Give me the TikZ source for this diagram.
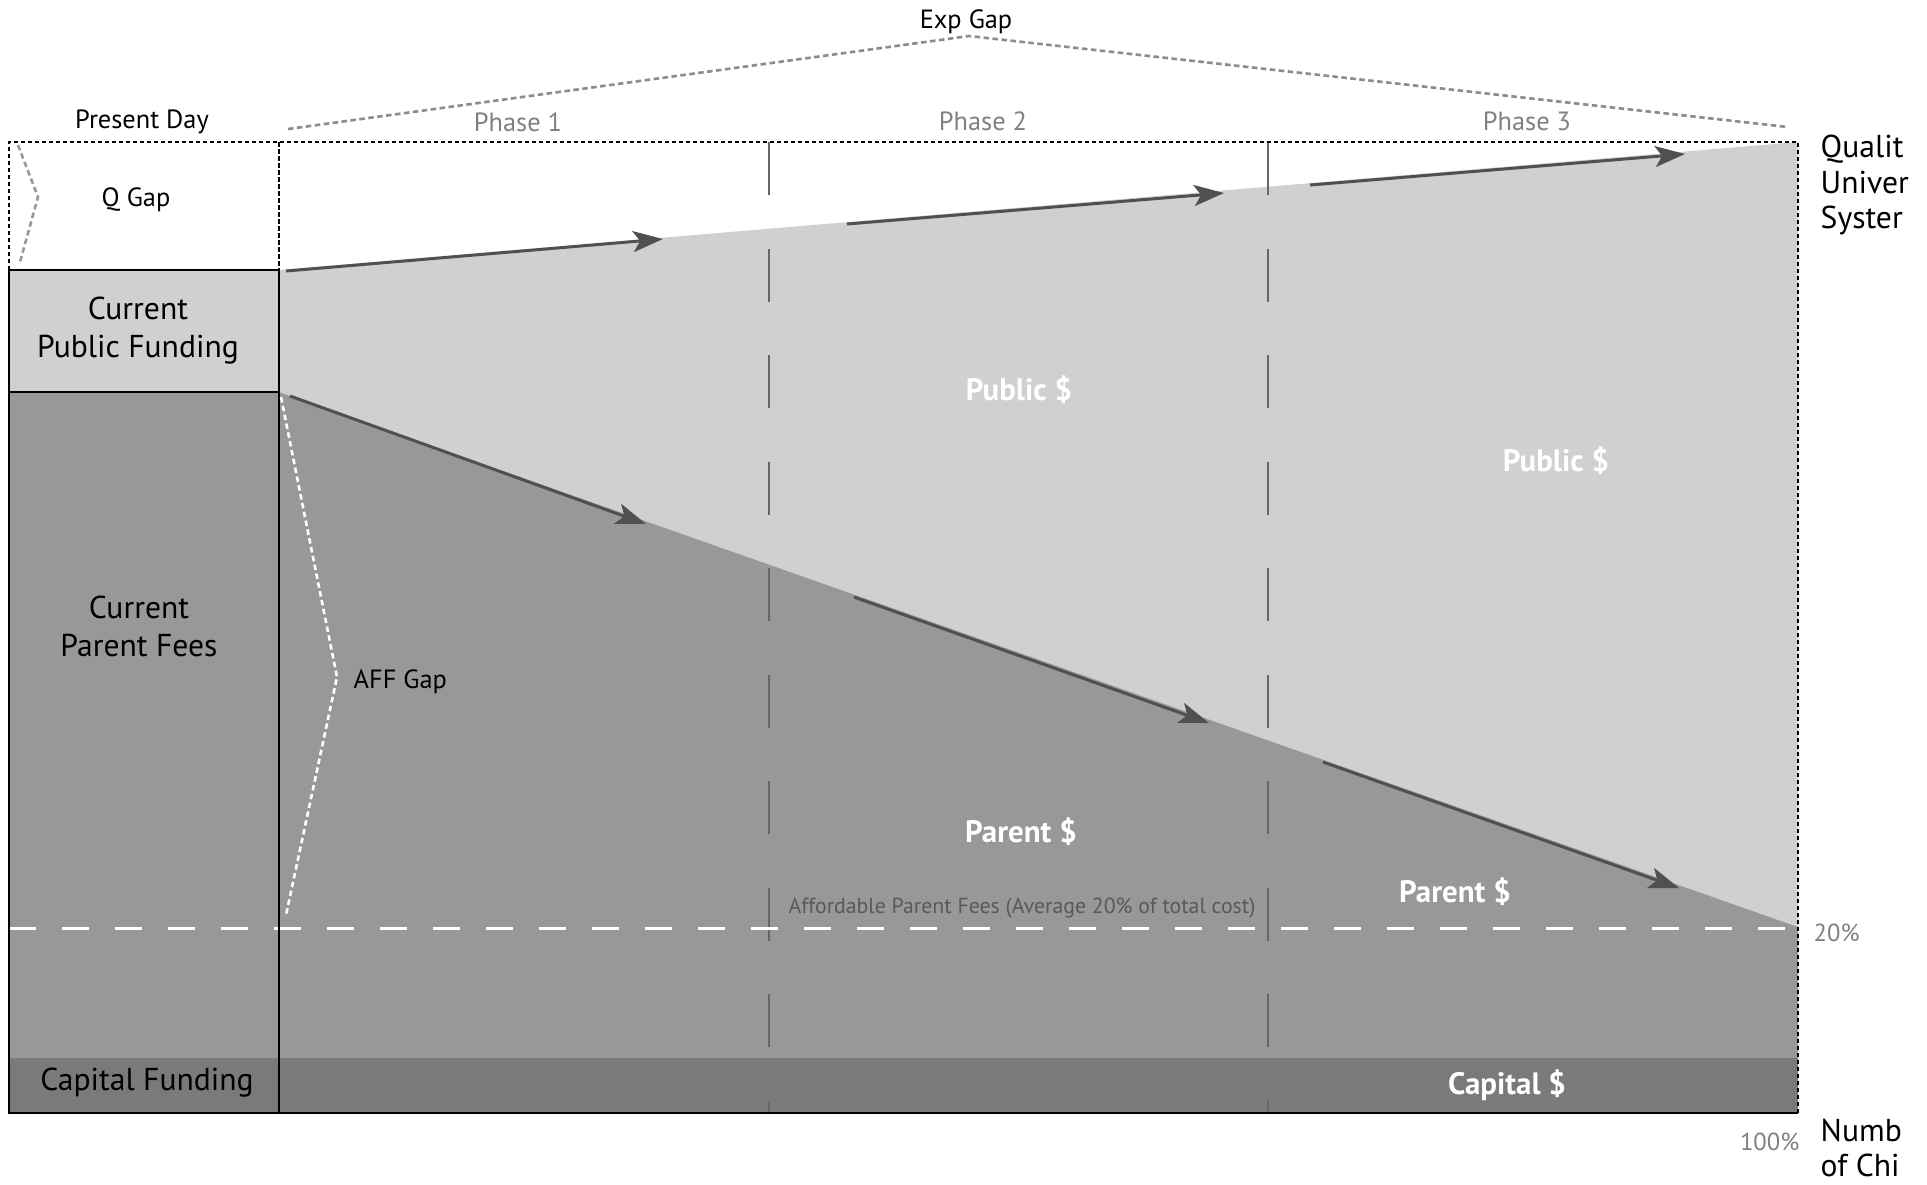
\documentclass[tikz,border=0pt]{standalone}
\usepackage{fontspec}
\setmainfont{PT Sans}
\usetikzlibrary{arrows.meta}
\definecolor{pubgray}{HTML}{D0D0D0}
\definecolor{pargray}{HTML}{989898}
\definecolor{capgray}{HTML}{7A7A7A}
\definecolor{arrgray}{HTML}{505050}
\definecolor{txtgray}{HTML}{808080}
\begin{document}
\begin{tikzpicture}[x=0.1mm, y=-0.1mm,
  flow/.style={draw=arrgray, line width=0.85pt, -{Stealth[length=3mm,width=2.1mm,inset=0.7mm]}},
  phaseline/.style={draw=black!60, line width=0.6pt, dash pattern=on 5.3mm off 5.35mm},
  dotbox/.style={line width=0.8pt, dash pattern=on 0.45mm off 0.25mm},
  gapmark/.style={line width=0.75pt, dash pattern=on 0.55mm off 0.35mm},
  lbl/.style={font=\fontsize{7.5}{9}\selectfont, inner sep=0pt},
  boxlbl/.style={font=\fontsize{9}{10.8}\selectfont, align=center, inner sep=0pt},
  money/.style={font=\fontsize{8.8}{10}\selectfont\bfseries, text=white, inner sep=0pt}]
\useasboundingbox (0,0) rectangle (1927,1184);

% Funding shares
\fill[pubgray] (279,270) -- (1798,142) -- (1798,927) -- (279,392) -- cycle;
\fill[pubgray] (9,270) rectangle (279,392);
\fill[pargray] (9,392) -- (279,392) -- (1798,927) -- (1798,1058) -- (9,1058) -- cycle;
\fill[capgray] (9,1058) rectangle (1798,1113);

% Phase borders and 20% line
\foreach \x in {769,1268}
  \draw[phaseline] (\x,142) -- (\x,1113);
\draw[white, line width=0.85pt, dash pattern=on 2.7mm off 2.6mm] (9,928) -- (1798,928);

% Present day column
\draw[line width=0.75pt] (9,270) rectangle (279,1113);
\draw[line width=0.75pt] (9,392) -- (279,392);
\draw[line width=0.75pt] (279,1113) -- (1798,1113);
\draw[dotbox] (9,270) -- (9,142) -- (1798,142) -- (1798,1113);
\draw[dotbox] (279,142) -- (279,270);

% Gap braces
\draw[gapmark, black!40] (18,145) -- (38,197) -- (20,262);
\draw[gapmark, white] (281,397) -- (337,677) -- (286,915);
\draw[gapmark, black!45] (288,129) -- (969,36) -- (1788,127);

% Trend arrows
\foreach \a/\b/\c/\d in {286/271/663/239, 847/224/1224/193, 1310/185/1685/154,
                         290/396/646/524, 854/597/1209/723, 1323/762/1679/888}
  \draw[flow] (\a,\b) -- (\c,\d);

% Labels
\node[lbl] (expgap) at (966,22) {Exp Gap};
\node[lbl] (present) at (142,122) {Present Day};
\node[lbl, text=txtgray] (phase1) at (518,122) {Phase 1};
\node[lbl, text=txtgray] (phase2) at (983,121) {Phase 2};
\node[lbl, text=txtgray] (phase3) at (1527,121) {Phase 3};
\node[lbl] (qgap) at (136,200) {Q Gap};
\node[boxlbl] (pubfund) at (138,331) {Current\\Public Funding};
\node[boxlbl] (parfees) at (139,626) {Current\\Parent Fees};
\node[boxlbl] (capfund) at (147,1083) {Capital Funding};
\node[lbl, anchor=west] (affgap) at (353,682) {AFF Gap};
\node[money] (public2) at (1019,390) {Public \$};
\node[money] (public3) at (1556,461) {Public \$};
\node[money] (parent2) at (1021,832) {Parent \$};
\node[money] (parent3) at (1455,892) {Parent \$};
\node[money] (capital) at (1507,1085) {Capital \$};
\node[font=\fontsize{6.2}{7}\selectfont, text=black!65, inner sep=0pt] (afford) at (1022,908)
  {Affordable Parent Fees (Average 20\% of total cost)};
\node[font=\fontsize{7}{8}\selectfont, text=txtgray, inner sep=0pt, anchor=west] (pct20) at (1813,933) {20\%};
\node[font=\fontsize{7}{8}\selectfont, text=txtgray, inner sep=0pt, anchor=east] (pct100) at (1800,1142) {100\%};

% Axis captions, as far as the picture shows them
\node[boxlbl, font=\fontsize{9}{10.2}\selectfont, align=left, anchor=west] (quality) at (1820,185) {Qualit\\Univer\\Syster};
\node[boxlbl, font=\fontsize{9}{10}\selectfont, align=left, anchor=west] (children) at (1820,1148) {Numb\\of Chi};
\end{tikzpicture}
\end{document}
